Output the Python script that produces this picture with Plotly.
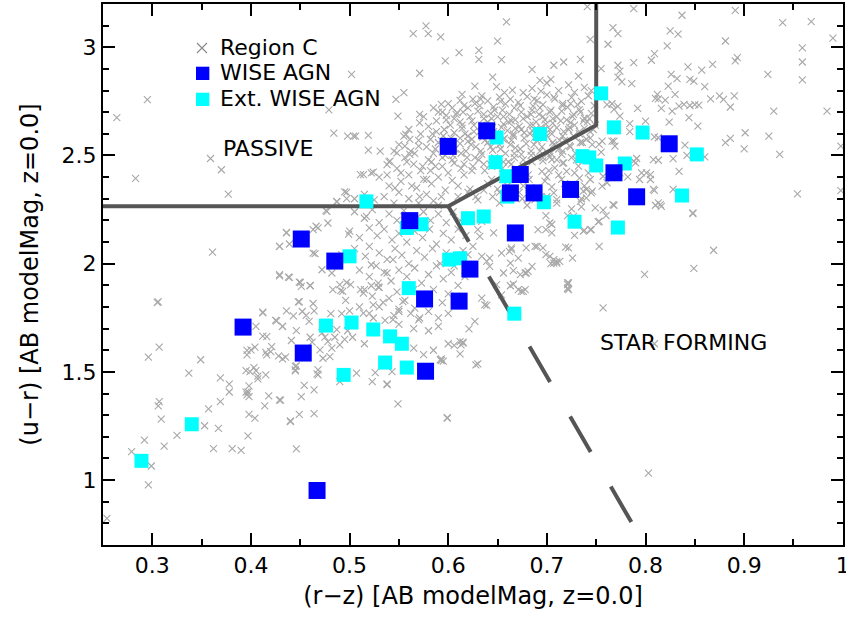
import plotly.graph_objects as go

# ---------------- data ----------------
# WISE AGN (blue squares): (r-z, u-r)
wise_agn = [(0.600, 2.542), (0.639, 2.614), (0.673, 2.412), (0.663, 2.327), (0.687, 2.327),
            (0.724, 2.343), (0.768, 2.420), (0.824, 2.554), (0.791, 2.309), (0.668, 2.142),
            (0.622, 1.975), (0.451, 2.114), (0.485, 2.012), (0.561, 2.199), (0.392, 1.707),
            (0.453, 1.587), (0.576, 1.837), (0.611, 1.827), (0.577, 1.503), (0.467, 0.952)]

# Extended WISE AGN (cyan squares)
ext_wise_agn = [(0.755, 2.787), (0.768, 2.630), (0.797, 2.606), (0.852, 2.505), (0.693, 2.599),
                (0.649, 2.583), (0.648, 2.469), (0.736, 2.497), (0.743, 2.491), (0.750, 2.454),
                (0.779, 2.463), (0.659, 2.404), (0.660, 2.310), (0.697, 2.284), (0.837, 2.315),
                (0.728, 2.194), (0.772, 2.167), (0.620, 2.210), (0.636, 2.218), (0.573, 2.182),
                (0.601, 2.019), (0.612, 2.025), (0.517, 2.288), (0.558, 2.165), (0.500, 2.034),
                (0.560, 1.887), (0.476, 1.714), (0.502, 1.728), (0.524, 1.696), (0.541, 1.664),
                (0.553, 1.630), (0.536, 1.543), (0.558, 1.520), (0.494, 1.486), (0.340, 1.258),
                (0.289, 1.089), (0.667, 1.769)]

# Region C sample (grey crosses), grouped by area of the diagram
region_c_upper = [(0.264, 2.675), (0.295, 2.758), (0.359, 2.486), (0.370, 2.434), (0.283, 2.394),
    (0.377, 2.321), (0.361, 2.053), (0.479, 2.711), (0.484, 2.603), (0.498, 2.589), (0.502, 2.875),
    (0.506, 2.589), (0.5645, 3.063), (0.5797, 3.063), (0.5774, 3.099), (0.5923, 3.048), (0.611, 2.975),
    (0.597, 2.937), (0.571, 2.880), (0.555, 2.790), (0.614, 2.782), (0.593, 2.736), (0.549, 2.682),
    (0.571, 2.690), (0.571, 2.651), (0.557, 2.597), (0.519, 2.525), (0.531, 2.520), (0.514, 2.412),
    (0.524, 2.423), (0.487, 2.288), (0.497, 2.330), (0.517, 2.219), (0.477, 2.242), (0.468, 2.165),
    (0.436, 2.142), (0.429, 2.080), (0.463, 2.049), (0.492, 2.042), (0.516, 2.034), (0.522, 1.995),
    (0.429, 1.944), (0.438, 1.938), (0.450, 1.913), (0.460, 1.898), (0.490, 1.903), (0.497, 1.913),
    (0.511, 1.880), (0.529, 1.910), (0.538, 1.957), (0.544, 2.019), (0.659, 3.117), (0.650, 3.028),
    (0.631, 2.986), (0.631, 2.944), (0.654, 2.943), (0.744, 3.037), (0.741, 3.188), (0.707, 2.917),
    (0.717, 2.932), (0.734, 2.944), (0.685, 2.898), (0.645, 2.862), (0.693, 2.847), (0.704, 2.852),
    (0.732, 2.867), (0.547, 2.759), (0.627, 2.821), (0.649, 2.818), (0.665, 2.802), (0.598, 2.685),
    (0.609, 2.698), (0.634, 2.775), (0.519, 2.593), (0.504, 2.589), (0.555, 2.589), (0.561, 2.574),
    (0.511, 2.412), (0.522, 2.420), (0.538, 2.458), (0.541, 2.474), (0.548, 2.512), (0.556, 2.543),
    (0.561, 2.505), (0.570, 2.543)]

region_c_right = [(0.788, 3.179), (0.837, 3.148), (0.891, 3.171), (0.939, 3.114), (0.968, 3.119),
    (0.990, 3.042), (0.767, 3.091), (0.772, 3.063), (0.825, 3.076), (0.833, 3.061), (0.762, 3.014),
    (0.822, 3.006), (0.881, 3.029), (0.959, 2.997), (0.809, 2.971), (0.806, 2.940), (0.788, 2.929),
    (0.893, 2.952), (0.891, 2.937), (0.959, 2.932), (0.772, 2.917), (0.774, 2.890), (0.772, 2.862),
    (0.843, 2.909), (0.857, 2.894), (0.868, 2.921), (0.826, 2.875), (0.832, 2.855), (0.845, 2.852),
    (0.849, 2.844), (0.924, 2.875), (0.959, 2.849), (0.786, 2.832), (0.823, 2.821), (0.860, 2.818),
    (0.830, 2.782), (0.812, 2.782), (0.813, 2.762), (0.810, 2.764), (0.820, 2.756), (0.866, 2.762),
    (0.875, 2.775), (0.879, 2.759), (0.890, 2.775), (0.886, 2.724), (0.761, 2.735), (0.766, 2.739),
    (0.772, 2.727), (0.768, 2.713), (0.792, 2.718), (0.816, 2.718), (0.827, 2.705), (0.834, 2.728),
    (0.839, 2.736), (0.845, 2.731), (0.850, 2.735), (0.854, 2.733), (0.930, 2.705), (0.984, 2.705),
    (0.844, 2.675), (0.824, 2.654), (0.774, 2.682), (0.784, 2.647), (0.784, 2.610), (0.800, 2.659),
    (0.853, 2.636), (0.809, 2.586), (0.813, 2.582), (0.881, 2.559), (0.886, 2.579), (0.901, 2.605),
    (0.900, 2.531), (0.925, 2.589), (0.936, 2.505), (0.998, 2.543), (0.840, 2.548), (0.828, 2.485),
    (0.842, 2.500), (0.860, 2.494), (0.808, 2.481), (0.813, 2.478), (0.791, 2.486), (0.790, 2.466),
    (0.834, 2.427), (0.753, 2.551), (0.755, 2.515), (0.766, 2.566), (0.769, 2.543), (0.796, 2.420),
    (0.805, 2.412), (0.805, 2.389), (0.755, 2.901), (0.776, 2.840), (0.756, 2.566), (0.768, 2.566),
    (0.788, 2.474), (0.808, 2.343), (0.848, 2.235), (0.793, 2.288), (0.813, 2.281), (0.815, 2.273),
    (0.767, 2.273), (0.749, 2.258), (0.757, 2.247), (0.753, 2.196), (0.753, 2.080), (0.954, 2.323),
    (0.768, 2.270), (0.809, 2.339), (0.810, 2.270), (0.816, 2.265), (0.848, 2.231), (0.760, 2.222),
    (0.752, 2.193), (0.869, 2.062), (0.849, 1.978), (0.799, 1.951), (0.757, 1.796), (0.809, 1.630),
    (0.828, 2.343), (0.998, 2.338), (0.801, 2.420), (0.794, 2.389), (0.774, 2.420), (0.782, 2.401),
    (0.757, 2.404), (0.761, 2.374), (0.756, 2.358), (0.803, 1.032)]

region_c_mid = [(0.725, 2.253), (0.721, 2.222), (0.744, 2.157), (0.738, 2.154), (0.728, 2.131),
    (0.719, 2.077), (0.707, 2.003), (0.707, 2.019), (0.710, 2.009), (0.726, 2.026), (0.721, 1.903),
    (0.721, 1.887), (0.699, 2.042), (0.704, 2.000), (0.690, 2.080), (0.679, 2.073), (0.681, 1.964),
    (0.678, 1.957), (0.662, 2.057), (0.664, 2.073), (0.642, 2.026), (0.654, 2.049), (0.663, 1.898),
    (0.666, 1.905), (0.699, 2.157), (0.705, 2.181), (0.691, 2.157), (0.699, 2.222), (0.735, 2.262),
    (0.728, 2.420), (0.732, 2.451), (0.717, 2.466), (0.720, 2.427), (0.705, 2.481), (0.708, 2.443),
    (0.695, 2.427), (0.698, 2.381), (0.744, 2.389), (0.745, 2.327), (0.740, 2.343), (0.683, 2.350),
    (0.688, 2.296), (0.707, 2.327), (0.710, 2.296), (0.737, 2.335), (0.734, 2.288), (0.740, 2.304),
    (0.746, 2.335), (0.727, 2.219), (0.705, 2.142), (0.703, 2.188), (0.737, 2.150), (0.745, 2.157),
    (0.688, 2.080), (0.696, 2.073), (0.703, 2.034), (0.710, 2.003), (0.713, 2.011), (0.722, 2.073),
    (0.722, 1.911), (0.722, 1.880), (0.685, 1.988), (0.673, 1.949), (0.679, 1.957), (0.664, 2.065),
    (0.671, 2.026), (0.663, 2.003), (0.656, 1.957), (0.666, 1.968), (0.671, 1.880), (0.676, 1.872),
    (0.649, 1.903), (0.654, 1.856), (0.634, 1.841), (0.637, 1.810), (0.627, 1.733), (0.621, 1.699),
    (0.612, 1.640), (0.615, 1.633), (0.592, 1.556), (0.634, 2.034), (0.639, 2.011), (0.642, 1.988),
    (0.634, 2.196), (0.630, 2.157), (0.646, 2.142), (0.632, 2.126), (0.625, 2.080), (0.620, 2.042),
    (0.678, 1.880), (0.639, 1.807), (0.630, 1.537), (0.593, 1.552), (0.612, 1.583), (0.606, 1.622),
    (0.615, 1.637), (0.599, 1.288), (0.721, 1.911), (0.721, 1.884), (0.674, 1.872)]

region_c_core = [(0.685, 2.810), (0.700, 2.835), (0.712, 2.800), (0.722, 2.826), (0.738, 2.815),
    (0.728, 2.792), (0.676, 2.790), (0.694, 2.797), (0.657, 2.790), (0.745, 2.800), (0.600, 2.740),
    (0.612, 2.755), (0.625, 2.760), (0.640, 2.752), (0.652, 2.770), (0.663, 2.760), (0.671, 2.745),
    (0.680, 2.772), (0.690, 2.755), (0.700, 2.780), (0.708, 2.762), (0.716, 2.740), (0.725, 2.768),
    (0.735, 2.750), (0.742, 2.776), (0.748, 2.730), (0.632, 2.730), (0.646, 2.725), (0.658, 2.738),
    (0.686, 2.728), (0.696, 2.735), (0.721, 2.722), (0.731, 2.735), (0.585, 2.720), (0.620, 2.720),
    (0.575, 2.680), (0.590, 2.700), (0.598, 2.665), (0.608, 2.690), (0.615, 2.700), (0.622, 2.680),
    (0.630, 2.705), (0.636, 2.670), (0.643, 2.695), (0.650, 2.680), (0.655, 2.710), (0.662, 2.690),
    (0.668, 2.665), (0.674, 2.700), (0.680, 2.680), (0.685, 2.710), (0.692, 2.690), (0.698, 2.665),
    (0.703, 2.700), (0.710, 2.680), (0.715, 2.705), (0.720, 2.665), (0.727, 2.690), (0.733, 2.712),
    (0.738, 2.672), (0.745, 2.695), (0.661, 2.655), (0.689, 2.655), (0.640, 2.655), (0.612, 2.655),
    (0.706, 2.650), (0.724, 2.652), (0.741, 2.655), (0.560, 2.620), (0.572, 2.600), (0.580, 2.635),
    (0.588, 2.610), (0.595, 2.590), (0.602, 2.640), (0.606, 2.605), (0.614, 2.625), (0.620, 2.590),
    (0.626, 2.640), (0.632, 2.610), (0.645, 2.630), (0.650, 2.600), (0.656, 2.645), (0.660, 2.615),
    (0.666, 2.590), (0.672, 2.635), (0.677, 2.605), (0.683, 2.640), (0.688, 2.585), (0.694, 2.620),
    (0.699, 2.645), (0.705, 2.600), (0.710, 2.628), (0.716, 2.590), (0.722, 2.620), (0.728, 2.640),
    (0.733, 2.600), (0.738, 2.625), (0.744, 2.610), (0.749, 2.640), (0.668, 2.625), (0.635, 2.585),
    (0.612, 2.580), (0.700, 2.590), (0.685, 2.615), (0.550, 2.550), (0.562, 2.520), (0.570, 2.570),
    (0.578, 2.540), (0.585, 2.510), (0.590, 2.560), (0.605, 2.500), (0.612, 2.555), (0.618, 2.520),
    (0.624, 2.575), (0.628, 2.540), (0.634, 2.505), (0.640, 2.560), (0.645, 2.525), (0.652, 2.550),
    (0.658, 2.510), (0.664, 2.570), (0.668, 2.535), (0.674, 2.505), (0.679, 2.555), (0.684, 2.520),
    (0.690, 2.570), (0.695, 2.540), (0.701, 2.510), (0.706, 2.560), (0.712, 2.530), (0.718, 2.570),
    (0.723, 2.545), (0.729, 2.510), (0.734, 2.560), (0.740, 2.575), (0.746, 2.550), (0.715, 2.505),
    (0.656, 2.575), (0.620, 2.565), (0.582, 2.575), (0.545, 2.520), (0.540, 2.470), (0.548, 2.440),
    (0.556, 2.490), (0.565, 2.460), (0.572, 2.430), (0.580, 2.480), (0.587, 2.450), (0.594, 2.490),
    (0.600, 2.420), (0.606, 2.465), (0.613, 2.440), (0.619, 2.490), (0.625, 2.450), (0.631, 2.480),
    (0.637, 2.430), (0.643, 2.460), (0.655, 2.440), (0.661, 2.470), (0.667, 2.490), (0.685, 2.470),
    (0.690, 2.490), (0.696, 2.475), (0.703, 2.495), (0.710, 2.480), (0.716, 2.465), (0.725, 2.490),
    (0.730, 2.480), (0.676, 2.450), (0.530, 2.400), (0.540, 2.360), (0.552, 2.380), (0.560, 2.410),
    (0.568, 2.350), (0.575, 2.390), (0.583, 2.370), (0.590, 2.400), (0.597, 2.340), (0.604, 2.385),
    (0.610, 2.360), (0.616, 2.410), (0.622, 2.345), (0.640, 2.370), (0.650, 2.345), (0.655, 2.390),
    (0.676, 2.360), (0.682, 2.390), (0.700, 2.400), (0.705, 2.355), (0.712, 2.410), (0.718, 2.370),
    (0.733, 2.395), (0.738, 2.360), (0.505, 2.300), (0.515, 2.320), (0.525, 2.295), (0.535, 2.310),
    (0.545, 2.280), (0.550, 2.330), (0.560, 2.300), (0.570, 2.280), (0.578, 2.320), (0.585, 2.290),
    (0.593, 2.310), (0.590, 2.270), (0.610, 2.310), (0.620, 2.330), (0.630, 2.295), (0.645, 2.310),
    (0.652, 2.280), (0.675, 2.300), (0.680, 2.270), (0.700, 2.310), (0.710, 2.280), (0.720, 2.320),
    (0.735, 2.300)]

region_c_dense = [(0.583, 2.47), (0.587, 2.53), (0.584, 2.60), (0.588, 2.66), (0.594, 2.45),
    (0.597, 2.50), (0.593, 2.57), (0.596, 2.62), (0.594, 2.70), (0.604, 2.48), (0.607, 2.53),
    (0.603, 2.58), (0.606, 2.67), (0.604, 2.72), (0.616, 2.46), (0.613, 2.51), (0.617, 2.60),
    (0.614, 2.64), (0.616, 2.73), (0.624, 2.43), (0.627, 2.49), (0.623, 2.55), (0.626, 2.61),
    (0.624, 2.66), (0.627, 2.74), (0.636, 2.46), (0.633, 2.52), (0.637, 2.57), (0.634, 2.64),
    (0.636, 2.69), (0.633, 2.76), (0.644, 2.45), (0.647, 2.49), (0.643, 2.54), (0.646, 2.61),
    (0.644, 2.67), (0.647, 2.71), (0.656, 2.47), (0.653, 2.53), (0.657, 2.58), (0.654, 2.63),
    (0.656, 2.68), (0.653, 2.75), (0.664, 2.46), (0.667, 2.51), (0.663, 2.55), (0.666, 2.60),
    (0.664, 2.66), (0.667, 2.72), (0.676, 2.48), (0.673, 2.53), (0.677, 2.58), (0.674, 2.62),
    (0.676, 2.67), (0.673, 2.73), (0.684, 2.50), (0.687, 2.55), (0.683, 2.60), (0.686, 2.64),
    (0.684, 2.69), (0.687, 2.76), (0.696, 2.49), (0.693, 2.52), (0.697, 2.58), (0.694, 2.63),
    (0.696, 2.68), (0.693, 2.72), (0.704, 2.51), (0.707, 2.55), (0.703, 2.62), (0.706, 2.67),
    (0.704, 2.71), (0.707, 2.77), (0.716, 2.52), (0.713, 2.57), (0.717, 2.61), (0.714, 2.66),
    (0.716, 2.73), (0.724, 2.54), (0.727, 2.59), (0.723, 2.63), (0.726, 2.68), (0.724, 2.74),
    (0.736, 2.56), (0.733, 2.61), (0.737, 2.66), (0.734, 2.70), (0.744, 2.58), (0.747, 2.62),
    (0.743, 2.67), (0.552, 2.42), (0.558, 2.47), (0.566, 2.51), (0.574, 2.45), (0.578, 2.39),
    (0.563, 2.36), (0.571, 2.31), (0.546, 2.35), (0.538, 2.41), (0.582, 2.43), (0.628, 2.31),
    (0.636, 2.34), (0.644, 2.39), (0.652, 2.33), (0.660, 2.36), (0.668, 2.43), (0.672, 2.33),
    (0.681, 2.41), (0.690, 2.35), (0.694, 2.31), (0.702, 2.43), (0.715, 2.39), (0.726, 2.36),
    (0.742, 2.42)]

region_c_band = [(0.505, 2.240), (0.515, 2.210), (0.523, 2.250), (0.530, 2.190), (0.540, 2.230),
    (0.548, 2.200), (0.555, 2.245), (0.568, 2.210), (0.575, 2.240), (0.582, 2.200), (0.590, 2.230),
    (0.598, 2.190), (0.605, 2.240), (0.612, 2.200), (0.500, 2.150), (0.510, 2.120), (0.520, 2.165),
    (0.528, 2.130), (0.535, 2.160), (0.543, 2.110), (0.550, 2.140), (0.558, 2.100), (0.566, 2.150),
    (0.574, 2.120), (0.581, 2.160), (0.588, 2.090), (0.595, 2.140), (0.603, 2.110), (0.610, 2.160),
    (0.618, 2.130), (0.505, 2.070), (0.520, 2.080), (0.530, 2.050), (0.538, 2.020), (0.546, 2.070),
    (0.553, 2.040), (0.560, 2.000), (0.568, 2.060), (0.576, 2.030), (0.584, 2.070), (0.592, 2.000),
    (0.598, 2.050), (0.606, 1.990), (0.615, 2.060), (0.510, 1.970), (0.520, 1.940), (0.527, 1.990),
    (0.535, 1.960), (0.542, 1.920), (0.550, 1.970), (0.558, 1.940), (0.566, 1.980), (0.573, 1.910),
    (0.580, 1.950), (0.588, 1.990), (0.595, 1.930), (0.603, 1.960), (0.610, 1.900), (0.617, 1.940),
    (0.515, 1.880), (0.523, 1.850), (0.530, 1.890), (0.540, 1.840), (0.548, 1.870), (0.556, 1.830),
    (0.565, 1.880), (0.585, 1.880), (0.594, 1.820), (0.600, 1.860), (0.608, 1.850), (0.510, 1.800),
    (0.520, 1.770), (0.530, 1.800), (0.545, 1.760), (0.550, 1.790), (0.562, 1.770), (0.570, 1.740),
    (0.580, 1.780), (0.590, 1.750), (0.600, 1.770), (0.550, 1.720), (0.565, 1.700), (0.580, 1.690),
    (0.590, 1.710), (0.503, 1.660), (0.515, 1.630), (0.565, 1.610), (0.575, 1.580), (0.585, 1.600),
    (0.600, 1.630), (0.595, 1.550), (0.478, 1.640), (0.485, 1.660), (0.490, 1.625), (0.495, 1.650),
    (0.482, 1.610), (0.487, 1.695), (0.472, 1.680), (0.498, 1.690), (0.460, 1.660)]

region_c_lower = [(0.495, 2.332), (0.497, 2.301), (0.487, 2.286), (0.476, 2.245), (0.478, 2.188),
    (0.466, 2.173), (0.463, 2.157), (0.436, 2.145), (0.439, 2.091), (0.429, 2.080), (0.465, 2.046),
    (0.499, 2.137), (0.472, 1.972), (0.482, 1.957), (0.429, 1.949), (0.439, 1.937), (0.449, 1.915),
    (0.451, 1.895), (0.460, 1.900), (0.483, 1.880), (0.491, 1.875), (0.501, 1.903), (0.305, 1.821),
    (0.448, 1.823), (0.463, 1.816), (0.412, 1.773), (0.436, 1.782), (0.443, 1.759), (0.452, 1.779),
    (0.456, 1.761), (0.464, 1.782), (0.481, 1.769), (0.492, 1.769), (0.500, 1.782), (0.425, 1.738),
    (0.432, 1.710), (0.459, 1.733), (0.446, 1.691), (0.405, 1.710), (0.416, 1.663), (0.441, 1.645),
    (0.462, 1.637), (0.475, 1.661), (0.307, 1.614), (0.296, 1.568), (0.349, 1.556), (0.396, 1.579),
    (0.400, 1.602), (0.404, 1.614), (0.416, 1.579), (0.420, 1.594), (0.428, 1.574), (0.432, 1.560),
    (0.445, 1.525), (0.470, 1.602), (0.473, 1.563), (0.480, 1.571), (0.254, 0.823), (0.279, 1.131),
    (0.292, 1.185), (0.299, 1.065), (0.296, 0.978), (0.306, 1.343), (0.307, 1.363), (0.309, 1.282),
    (0.312, 1.157), (0.325, 1.207), (0.337, 1.494), (0.353, 1.251), (0.357, 1.329), (0.362, 1.145),
    (0.367, 1.239), (0.369, 1.363), (0.369, 1.472), (0.378, 1.443), (0.378, 1.407), (0.381, 1.145),
    (0.390, 1.137), (0.395, 1.406), (0.397, 1.204), (0.398, 1.304), (0.398, 1.435), (0.398, 1.386),
    (0.399, 1.501), (0.404, 1.286), (0.407, 1.468), (0.414, 1.343), (0.415, 1.486), (0.418, 1.389),
    (0.430, 1.369), (0.440, 1.273), (0.445, 1.505), (0.446, 1.144), (0.449, 1.304), (0.451, 1.386),
    (0.454, 1.438), (0.464, 1.417), (0.464, 1.307), (0.467, 1.491), (0.490, 1.455), (0.507, 1.494),
    (0.526, 1.497), (0.543, 1.501), (0.523, 1.455), (0.538, 1.441), (0.549, 1.352), (0.599, 1.286),
    (0.306, 1.823), (0.412, 1.776), (0.426, 1.736), (0.449, 1.823), (0.496, 1.830), (0.493, 1.872),
    (0.514, 1.864), (0.522, 1.898), (0.529, 1.892), (0.514, 1.772), (0.524, 1.810), (0.524, 1.749),
    (0.534, 1.821), (0.536, 1.738), (0.544, 1.741), (0.550, 1.779), (0.554, 1.825), (0.562, 1.895),
    (0.566, 1.795), (0.571, 1.749), (0.538, 1.444), (0.593, 1.560), (0.613, 1.625), (0.628, 1.532),
    (0.468, 1.509), (0.468, 1.486), (0.412, 1.665), (0.415, 1.590), (0.405, 1.506), (0.407, 1.480),
    (0.403, 1.520), (0.396, 1.599), (0.395, 1.506), (0.397, 1.407), (0.396, 1.394), (0.421, 1.617),
    (0.429, 1.370), (0.432, 1.710), (0.435, 1.568), (0.446, 1.528), (0.445, 1.509), (0.440, 1.270)]

# Classification boundaries
boundary_x = [0.25, 0.60, 0.75, 0.75]
boundary_y = [2.265, 2.265, 2.640, 3.20]
dashed_x = [0.60, 0.787]
dashed_y = [2.265, 0.795]

# ---------------- figure ----------------
region_c = (region_c_upper + region_c_right + region_c_mid + region_c_core + region_c_dense
            + region_c_band + region_c_lower)

fig = go.Figure()
fig.add_trace(go.Scatter(
    x=[p[0] for p in region_c], y=[p[1] for p in region_c], mode="markers", name="Region C",
    marker=dict(symbol="x-thin", size=7, color="#a8a8a8", line=dict(width=1.1, color="#a8a8a8"))))
fig.add_trace(go.Scatter(x=boundary_x, y=boundary_y, mode="lines",
                         line=dict(color="#555555", width=4), hoverinfo="skip", showlegend=False))
fig.add_trace(go.Scatter(x=dashed_x, y=dashed_y, mode="lines",
                         line=dict(color="#555555", width=4, dash="41px,40px"),
                         hoverinfo="skip", showlegend=False))
fig.add_trace(go.Scatter(
    x=[p[0] for p in ext_wise_agn], y=[p[1] for p in ext_wise_agn], mode="markers",
    name="Ext. WISE AGN", marker=dict(symbol="square", size=14, color="#00ffff", line=dict(width=0))))
fig.add_trace(go.Scatter(
    x=[p[0] for p in wise_agn], y=[p[1] for p in wise_agn], mode="markers",
    name="WISE AGN", marker=dict(symbol="square", size=17, color="#0000ff", line=dict(width=0))))

FONT = "DejaVu Sans"
axis_common = dict(showgrid=False, zeroline=False, showline=True, linewidth=2, linecolor="black",
                   mirror="allticks", ticks="inside", ticklen=12, tickwidth=2, tickcolor="black",
                   automargin=False, tickfont=dict(family=FONT, size=22, color="black"))
fig.update_xaxes(range=[0.25, 1.0002], tick0=0, dtick=0.1, ticklabeloverflow="allow", **axis_common,
                 minor=dict(ticks="inside", dtick=0.05, ticklen=6, tickwidth=2, tickcolor="black"),
                 title=dict(text="(r\u2212z) [AB modelMag, z=0.0]", font=dict(family=FONT, size=24),
                            standoff=10))
fig.update_yaxes(range=[0.7, 3.2], tick0=0, dtick=0.5, **axis_common,
                 minor=dict(ticks="inside", dtick=0.1, ticklen=6, tickwidth=2, tickcolor="black"),
                 title=dict(text="(u\u2212r) [AB modelMag, z=0.0]", font=dict(family=FONT, size=24),
                            standoff=16))

# region labels
fig.add_annotation(x=0.417, y=2.532, text="PASSIVE", showarrow=False,
                   font=dict(family=FONT, size=22, color="black"))
fig.add_annotation(x=0.838, y=1.636, text="STAR FORMING", showarrow=False,
                   font=dict(family=FONT, size=22, color="black"))

# legend (drawn in paper coordinates)
leg_font = dict(family=FONT, size=22, color="black")
for txt, yp in [("Region C", 0.9205), ("WISE AGN", 0.8725), ("Ext. WISE AGN", 0.8250)]:
    fig.add_annotation(xref="paper", yref="paper", x=0.1558, y=yp, xanchor="left", yanchor="middle",
                       text=txt, showarrow=False, font=leg_font)
fig.add_shape(type="line", xref="paper", yref="paper", x0=0.1270, x1=0.1405, y0=0.9279, y1=0.9094,
              line=dict(color="#8c8c8c", width=1.2))
fig.add_shape(type="line", xref="paper", yref="paper", x0=0.1270, x1=0.1405, y0=0.9094, y1=0.9279,
              line=dict(color="#8c8c8c", width=1.2))
fig.add_shape(type="rect", xref="paper", yref="paper", x0=0.1257, x1=0.1437, y0=0.8595, y1=0.8841,
              fillcolor="#0000ff", line=dict(width=0))
fig.add_shape(type="rect", xref="paper", yref="paper", x0=0.1257, x1=0.1437, y0=0.8115, y1=0.8360,
              fillcolor="#00ffff", line=dict(width=0))

fig.update_layout(width=846, height=617, margin=dict(l=103, r=3, t=4, b=72),
                  plot_bgcolor="white", paper_bgcolor="white", showlegend=False,
                  font=dict(family=FONT, size=22, color="black"))
fig.write_html("out.html")
